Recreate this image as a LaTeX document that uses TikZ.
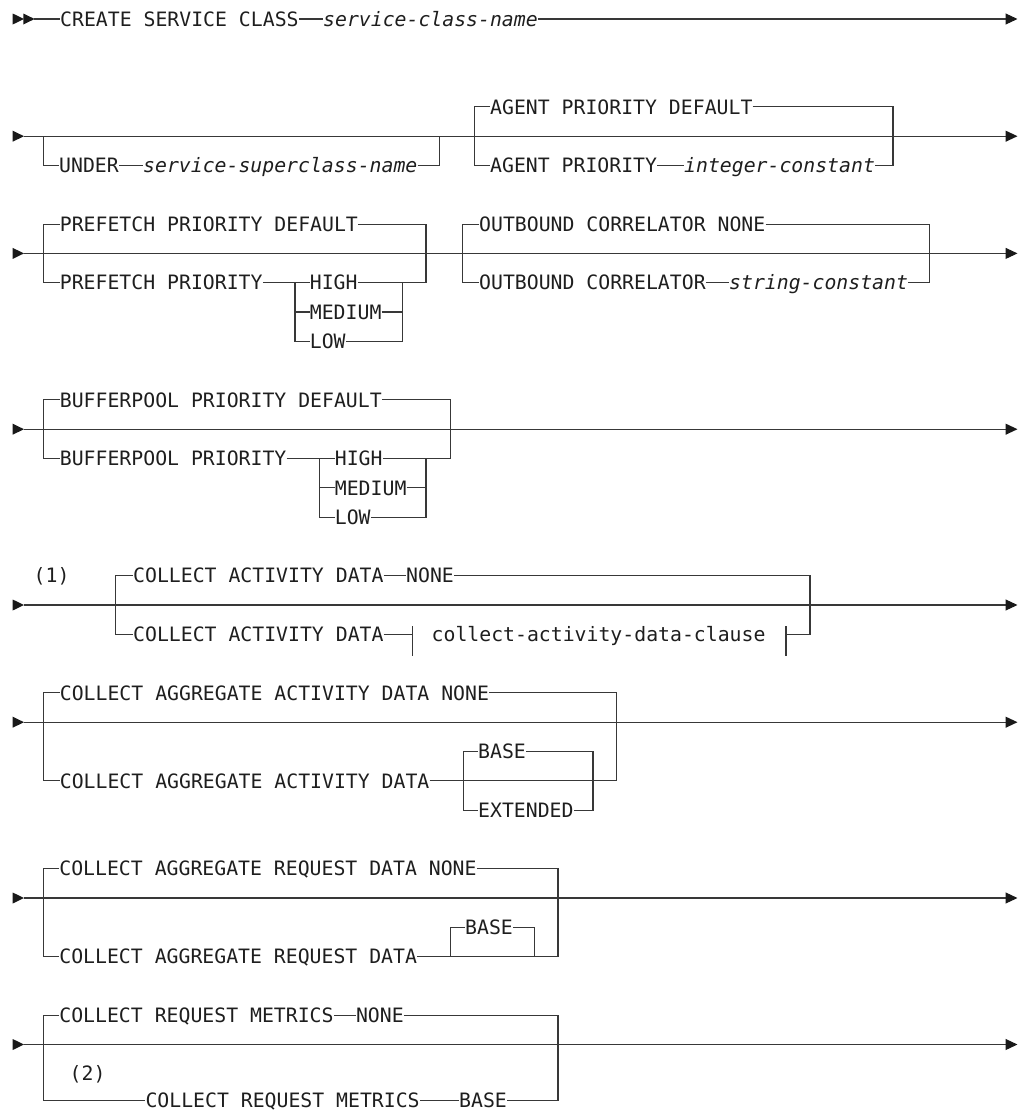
\documentclass[tikz,border=0pt]{standalone}
\usepackage{fontspec}
\usetikzlibrary{arrows.meta}
\newfontfamily\dmono{DejaVu Sans Mono}
\definecolor{lnc}{HTML}{383838}
\definecolor{txc}{HTML}{1E1E1E}
\tikzset{
  tx/.style={font=\dmono\fontsize{19.8}{22}\selectfont, text=txc, inner xsep=0pt, inner ysep=0pt, text height=14.4pt, text depth=0pt, anchor=west},
  txi/.style={tx, font=\dmono\fontsize{19.8}{22}\selectfont\itshape},
  ln/.style={draw=lnc, line width=1.1pt},
  endarr/.style={-{Triangle[length=12pt,width=11pt,color=black!90]}},
}
\newcommand\starttri[2]{\fill[black!90] (#1,{#2-5.5}) -- ({#1+11.3},#2) -- (#1,{#2+5.5}) -- cycle;}
\begin{document}
\begin{tikzpicture}[x=1pt,y=-1pt]
\useasboundingbox (0,0) rectangle (1022,1111);

% ---------------- Row 1
\starttri{12.7}{19}
\starttri{23.3}{19}
\coordinate (r1s) at (34,19);
\coordinate (r1e) at (1017.5,19);
\node[tx]  (r1a) at (60,19) {CREATE SERVICE CLASS};
\node[txi] (r1b) at (323,19) {service-class-name};
\draw[ln] (r1s) -- (r1a.west);
\draw[ln] (r1a.east) -- (r1b.west);
\draw[ln,endarr] (r1b.east) -- (r1e);

% ---------------- Row 2
\starttri{12.7}{136.2}
\coordinate (r2s) at (24,136.2);
\coordinate (r2e) at (1017.5,136.2);
\draw[ln,endarr] (r2s) -- (r2e);
\coordinate (r2j1) at (43.3,136.2);
\coordinate (r2j2) at (439.5,136.2);
\node[tx]  (r2u1) at (59,165.5) {UNDER};
\node[txi] (r2u2) at (143,165.5) {service-superclass-name};
\draw[ln] (r2j1) |- (r2u1.west);
\draw[ln] (r2u1.east) -- (r2u2.west);
\draw[ln] (r2u2.east) -| (r2j2);
\coordinate (r2j3) at (474.5,136.2);
\coordinate (r2j4) at (893,136.2);
\node[tx]  (r2a1) at (490,106.9) {AGENT PRIORITY DEFAULT};
\node[tx]  (r2a2) at (490,165.5) {AGENT PRIORITY};
\node[txi] (r2a3) at (684,165.5) {integer-constant};
\draw[ln] (r2a1.west) -| (r2j3) |- (r2a2.west);
\draw[ln] (r2a1.east) -| (r2j4) |- (r2a3.east);
\draw[ln] (r2a2.east) -- (r2a3.west);

% ---------------- Row 3
\starttri{12.7}{253.4}
\coordinate (r3s) at (24,253.4);
\coordinate (r3e) at (1017.5,253.4);
\draw[ln,endarr] (r3s) -- (r3e);
\coordinate (r3j1) at (43.3,253.4);
\coordinate (r3j2) at (426,253.4);
\node[tx] (r3p1) at (59.7,224.1) {PREFETCH PRIORITY DEFAULT};
\node[tx] (r3p2) at (59.7,282.7) {PREFETCH PRIORITY};
\draw[ln] (r3p1.west) -| (r3j1) |- (r3p2.west);
\draw[ln] (r3p1.east) -| (r3j2);
\coordinate (r3k1) at (295,282.7);
\coordinate (r3k2) at (402.7,282.7);
\node[tx] (r3h)  at (309.7,282.7) {HIGH};
\node[tx] (r3md) at (309.7,312) {MEDIUM};
\node[tx] (r3lo) at (309.7,341.3) {LOW};
\draw[ln] (r3p2.east) -- (r3h.west);
\draw[ln] (r3k1) |- (r3lo.west);
\draw[ln] (r3md.west) -- (r3md.west -| r3k1);
\draw[ln] (r3h.east) -| (r3j2);
\draw[ln] (r3lo.east) -| (r3k2);
\draw[ln] (r3md.east) -- (r3md.east -| r3k2);
\coordinate (r3j3) at (462.5,253.4);
\coordinate (r3j4) at (929.8,253.4);
\node[tx]  (r3o1) at (479,224.1) {OUTBOUND CORRELATOR NONE};
\node[tx]  (r3o2) at (479,282.7) {OUTBOUND CORRELATOR};
\node[txi] (r3o3) at (729,282.7) {string-constant};
\draw[ln] (r3o1.west) -| (r3j3) |- (r3o2.west);
\draw[ln] (r3o1.east) -| (r3j4) |- (r3o3.east);
\draw[ln] (r3o2.east) -- (r3o3.west);

% ---------------- Row 4
\starttri{12.7}{429.2}
\coordinate (r4s) at (24,429.2);
\coordinate (r4e) at (1017.5,429.2);
\draw[ln,endarr] (r4s) -- (r4e);
\coordinate (r4j1) at (43.3,429.2);
\coordinate (r4j2) at (450.7,429.2);
\node[tx] (r4b1) at (59.7,399.9) {BUFFERPOOL PRIORITY DEFAULT};
\node[tx] (r4b2) at (59.7,458.5) {BUFFERPOOL PRIORITY};
\draw[ln] (r4b1.west) -| (r4j1) |- (r4b2.west);
\draw[ln] (r4b1.east) -| (r4j2);
\coordinate (r4k1) at (319.3,458.5);
\coordinate (r4k2) at (426,458.5);
\node[tx] (r4h)  at (334.7,458.5) {HIGH};
\node[tx] (r4md) at (334.7,487.8) {MEDIUM};
\node[tx] (r4lo) at (334.7,517.1) {LOW};
\draw[ln] (r4b2.east) -- (r4h.west);
\draw[ln] (r4k1) |- (r4lo.west);
\draw[ln] (r4md.west) -- (r4md.west -| r4k1);
\draw[ln] (r4h.east) -| (r4j2);
\draw[ln] (r4lo.east) -| (r4k2);
\draw[ln] (r4md.east) -- (r4md.east -| r4k2);

% ---------------- Row 5
\starttri{12.7}{605}
\coordinate (r5s) at (24,605);
\coordinate (r5e) at (1017.5,605);
\draw[ln,endarr] (r5s) -- (r5e);
\node[tx] (r5n) at (33.5,575.7) {(1)};
\coordinate (r5j1) at (115.5,605);
\coordinate (r5j2) at (810,605);
\node[tx] (r5a1) at (133,575.7) {COLLECT ACTIVITY DATA};
\node[tx] (r5a2) at (406,575.7) {NONE};
\node[tx] (r5b1) at (133,634.3) {COLLECT ACTIVITY DATA};
\node[tx] (r5b2) at (431.5,634.3) {collect-activity-data-clause};
\coordinate (r5t1) at (412.7,634.3);
\coordinate (r5t2) at (786,634.3);
\draw[ln] (r5a1.west) -| (r5j1) |- (r5b1.west);
\draw[ln] (r5a1.east) -- (r5a2.west);
\draw[ln] (r5a2.east) -| (r5j2);
\draw[ln] (r5b1.east) -- (r5t1);
\draw[ln] (r5t1) ++(0,-8.3) -- ++(0,30);
\draw[ln] (r5t2) ++(0,-8.3) -- ++(0,30);
\draw[ln] (r5t2) -| (r5j2);

% ---------------- Row 6
\starttri{12.7}{722.2}
\coordinate (r6s) at (24,722.2);
\coordinate (r6e) at (1017.5,722.2);
\draw[ln,endarr] (r6s) -- (r6e);
\coordinate (r6j1) at (43.3,722.2);
\coordinate (r6j2) at (616.5,722.2);
\node[tx] (r6a) at (59.7,692.9) {COLLECT AGGREGATE ACTIVITY DATA NONE};
\node[tx] (r6b) at (59.7,780.8) {COLLECT AGGREGATE ACTIVITY DATA};
\draw[ln] (r6a.west) -| (r6j1) |- (r6b.west);
\draw[ln] (r6a.east) -| (r6j2);
\draw[ln] (r6b.east) -| (r6j2);
\coordinate (r6k1) at (463.3,780.8);
\coordinate (r6k2) at (593,780.8);
\node[tx] (r6base) at (478,751.5) {BASE};
\node[tx] (r6ext)  at (478,810.1) {EXTENDED};
\draw[ln] (r6base.west) -| (r6k1) |- (r6ext.west);
\draw[ln] (r6base.east) -| (r6k2) |- (r6ext.east);

% ---------------- Row 7
\starttri{12.7}{898}
\coordinate (r7s) at (24,898);
\coordinate (r7e) at (1017.5,898);
\draw[ln,endarr] (r7s) -- (r7e);
\coordinate (r7j1) at (43.3,898);
\coordinate (r7j2) at (558,898);
\node[tx] (r7a) at (59.2,868.7) {COLLECT AGGREGATE REQUEST DATA NONE};
\node[tx] (r7b) at (59.2,956.6) {COLLECT AGGREGATE REQUEST DATA};
\draw[ln] (r7a.west) -| (r7j1) |- (r7b.west);
\draw[ln] (r7a.east) -| (r7j2);
\draw[ln] (r7b.east) -| (r7j2);
\coordinate (r7k1) at (450.8,956.6);
\coordinate (r7k2) at (534.6,956.6);
\node[tx] (r7base) at (465,927.3) {BASE};
\draw[ln] (r7base.west) -| (r7k1);
\draw[ln] (r7base.east) -| (r7k2);

% ---------------- Row 8
\starttri{12.7}{1044.5}
\coordinate (r8s) at (24,1044.5);
\coordinate (r8e) at (1017.5,1044.5);
\draw[ln,endarr] (r8s) -- (r8e);
\coordinate (r8j1) at (43.3,1044.5);
\coordinate (r8j2) at (558,1044.5);
\node[tx] (r8a) at (59.2,1015.2) {COLLECT REQUEST METRICS};
\node[tx] (r8b) at (355.8,1015.2) {NONE};
\node[tx] (r8n) at (69.5,1072.8) {(2)};
\node[tx] (r8c) at (145.3,1100.5) {COLLECT REQUEST METRICS};
\node[tx] (r8d) at (459,1100.5) {BASE};
\draw[ln] (r8a.west) -| (r8j1) |- (r8c.west);
\draw[ln] (r8a.east) -- (r8b.west);
\draw[ln] (r8b.east) -| (r8j2);
\draw[ln] (r8c.east) -- (r8d.west);
\draw[ln] (r8d.east) -| (r8j2);
\end{tikzpicture}
\end{document}
